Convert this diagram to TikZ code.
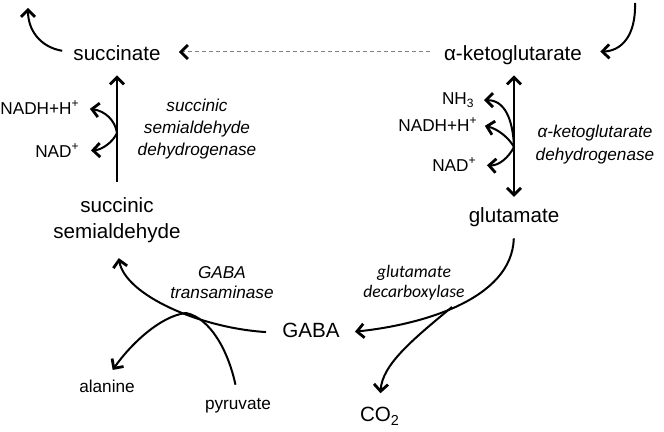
\documentclass[tikz,border=0pt]{standalone}
\usepackage{fontspec}
\setmainfont{Liberation Sans}
\newfontfamily\carlito{Carlito}
\usetikzlibrary{positioning,arrows.meta}
\tikzset{>={Straight Barb[length=3.5pt,width=7pt,line width=1.4pt]},
         met/.style={font=\fontsize{10.3}{13}\selectfont, inner sep=2pt, anchor=base},
         metx/.style={met, text height=7.4pt, text depth=2.2pt},
         cof/.style={font=\fontsize{8.6}{11}\selectfont, inner sep=1pt, anchor=base east},
         enz/.style={font=\fontsize{8.6}{11}\selectfont\itshape, align=center, inner sep=0pt, anchor=base},
         flux/.style={line width=1pt}}

\begin{document}
\begin{tikzpicture}[x=0.5pt, y=-0.5pt]

             \useasboundingbox (0,0) rectangle (664,432);

             \node (Suc) [metx] at (117,61) {succinate};
             \node (AKG) [metx] at (513,61) {α-ketoglutarate};
             \node (Glu) [metx] at (514,223) {glutamate};
             \node (SSA) [met, align=center] at (117,239) {succinic\\semialdehyde};
             \node (GABA) [metx] at (311,338) {GABA};
             \node (CO2) [met] at (380,422) {CO\textsubscript{2}};

             \node (Ala) [cof, anchor=base] at (107,393) {alanine};
             \node (Pyr) [cof, anchor=base] at (238,410) {pyruvate};

             \node (NADH1) [cof] at (82,115) {NADH+H\textsuperscript{+}};
             \node (NAD1) [cof] at (82,158) {NAD\textsuperscript{+}};
             \node (NH3) [cof] at (477,105) {NH\textsubscript{3}};
             \node (NADH2) [cof] at (480,132) {NADH+H\textsuperscript{+}};
             \node (NAD2) [cof] at (479,172) {NAD\textsuperscript{+}};

             \node (SSADH) [enz] at (197,156) {succinic\\semialdehyde\\dehydrogenase};
             \node (KGDH) [enz, font=\fontsize{8.6}{11.5}\selectfont\itshape] at (595,161) {α-ketoglutarate\\dehydrogenase};
             \node (GABAT) [enz, font=\fontsize{8.6}{10}\selectfont\itshape] at (222,299) {GABA\\transaminase};
             \node (GAD) [enz, font=\fontsize{8.8}{10}\selectfont\carlito\itshape] at (414,298) {glutamate\\decarboxylase};

             \coordinate (In) at (635,3);
             \coordinate (Out) at (28,8);
             \coordinate (b1) at (117,133);
             \coordinate (b2) at (514,147);
             \coordinate (c1) at (452,307);
             \coordinate (c2) at (186,313);

             \draw [->, flux, shorten <=6pt, shorten >=2.8pt] (SSA.north) to (Suc.south);
             \draw [<->, flux, shorten <=2.8pt, shorten >=3.5pt] (AKG.south -| Glu.north) to (Glu.north);
             \draw [-{Straight Barb[length=3.5pt,width=7pt,color=black,line width=1.4pt]}, gray, dashed, dash pattern=on 2pt off 1.5pt, line width=0.5pt, shorten <=5pt, shorten >=7pt]
                   ([yshift=1.9pt]AKG.west) to ([yshift=1.9pt]Suc.east);

             \draw [->, flux, shorten <=3.5pt] ([yshift=1.9pt]Suc.west) .. controls (40,47) and (28,30) .. (Out);
             \draw [->, flux, shorten >=7pt] (In) .. controls (636,35) and (622,51) .. ([yshift=1.9pt]AKG.east);

             \draw [->, flux, shorten >=4pt] (b1) .. controls (115,120) and (105,111) .. (NADH1.east);
             \draw [->, flux, shorten >=4.5pt] (b1) .. controls (113,142) and (102,150) .. (NAD1.east);

             \draw [->, flux, shorten >=3.5pt] (b2) .. controls (513,120) and (505,100) .. (NH3.east);
             \draw [->, flux, shorten >=2.5pt] (b2) .. controls (509,138) and (498,129) .. (NADH2.east);
             \draw [->, flux, shorten >=4pt] (b2) .. controls (509,157) and (499,166) .. (NAD2.east);

             \draw [->, flux, shorten <=3.3pt, shorten >=5.5pt] (Glu.south) .. controls (512,300) and (420,325) .. (GABA.east);
             \draw [->, flux, shorten >=5pt] (c1) .. controls (412,340) and (382,365) .. (CO2.north);

             \draw [->, flux, shorten <=6pt, shorten >=5.3pt] (GABA.west) .. controls (200,328) and (125,295) .. (SSA.south);
             \draw [->, flux, shorten >=5pt] (c2) .. controls (160,316) and (130,345) .. (Ala.north);
             \draw [flux, shorten <=6pt] (Pyr.north) .. controls (228,350) and (210,318) .. (c2);
          \end{tikzpicture}
\end{document}
